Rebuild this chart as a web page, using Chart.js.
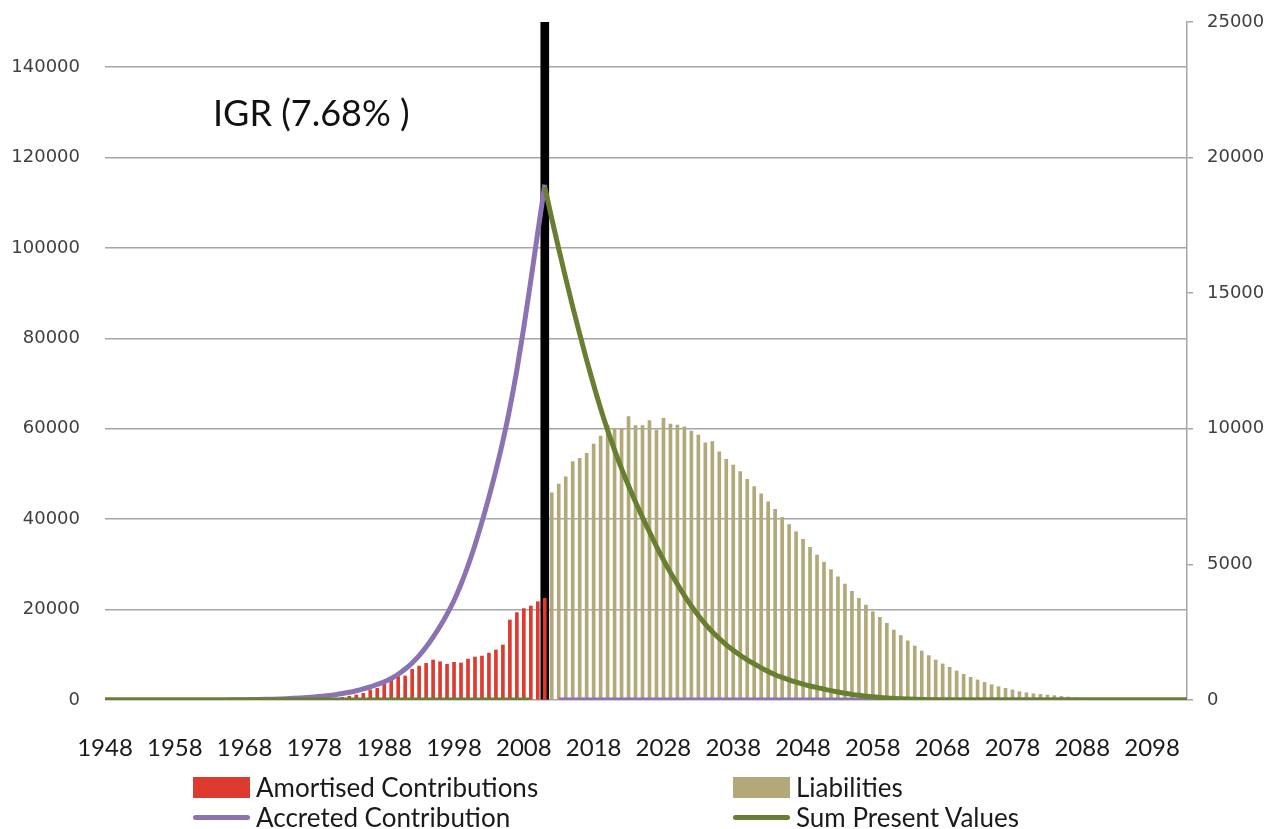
<!DOCTYPE html>
<html lang="en">
<head>
  <meta charset="UTF-8" />
  <script src="https://cdn.jsdelivr.net/npm/chart.js"></script>
  <title>IGR (7.68%)</title>
  <style>
    body {
      margin: 0;
      background: #fff;
    }
    .wrap {
      position: relative;
      width: 1277px;
      height: 829px;
    }
    #legend {
      position: absolute;
      left: 0;
      top: 0;
      width: 100%;
      height: 100%;
      pointer-events: none;
      font-family: Lato, sans-serif;
      font-size: 26px;
      color: #1a1a1a;
    }
    .item {
      position: absolute;
      display: flex;
      align-items: center;
      white-space: nowrap;
      transform: translateY(-50%);
    }
    .swatch {
      width: 57px;
      margin-right: 6px;
      box-sizing: border-box;
    }
  </style>
</head>
<body>
  <div class="wrap">
    <canvas id="chart" width="1277" height="829"></canvas>
    <div id="legend"></div>
  </div>

  <script>
    // categories
    const years = [
      1948, 1949, 1950, 1951, 1952, 1953, 1954, 1955, 1956, 1957,
      1958, 1959, 1960, 1961, 1962, 1963, 1964, 1965, 1966, 1967,
      1968, 1969, 1970, 1971, 1972, 1973, 1974, 1975, 1976, 1977,
      1978, 1979, 1980, 1981, 1982, 1983, 1984, 1985, 1986, 1987,
      1988, 1989, 1990, 1991, 1992, 1993, 1994, 1995, 1996, 1997,
      1998, 1999, 2000, 2001, 2002, 2003, 2004, 2005, 2006, 2007,
      2008, 2009, 2010, 2011, 2012, 2013, 2014, 2015, 2016, 2017,
      2018, 2019, 2020, 2021, 2022, 2023, 2024, 2025, 2026, 2027,
      2028, 2029, 2030, 2031, 2032, 2033, 2034, 2035, 2036, 2037,
      2038, 2039, 2040, 2041, 2042, 2043, 2044, 2045, 2046, 2047,
      2048, 2049, 2050, 2051, 2052, 2053, 2054, 2055, 2056, 2057,
      2058, 2059, 2060, 2061, 2062, 2063, 2064, 2065, 2066, 2067,
      2068, 2069, 2070, 2071, 2072, 2073, 2074, 2075, 2076, 2077,
      2078, 2079, 2080, 2081, 2082, 2083, 2084, 2085, 2086, 2087,
      2088, 2089, 2090, 2091, 2092, 2093, 2094, 2095, 2096, 2097,
      2098, 2099, 2100, 2101, 2102, 2103
    ];

    // bars, right axis (from amortStart onwards)
    const amortStart = 1980;
    const amortised = [
      40, 70, 100, 140, 185, 245, 370, 430,
      675, 800, 860, 885, 1130, 1250, 1350, 1475, 1410, 1315,
      1390, 1365, 1510, 1585, 1620, 1730, 1845, 2030, 2950, 3220,
      3370, 3465, 3625, 3750
    ];

    const liabStart = 2012;
    const liabilities = [
      7640, 7960, 8230, 8790, 8910, 9095, 9440, 9730, 10140, 10020,
      10020, 10450, 10115, 10115, 10300, 9955, 10385, 10175, 10140, 10075,
      9920, 9770, 9485, 9525, 9155, 8875, 8665, 8420, 8135, 7865,
      7600, 7310, 7030, 6730, 6470, 6205, 5925, 5630, 5345, 5080,
      4805, 4540, 4275, 4010, 3750, 3500, 3255, 3050, 2830, 2580,
      2380, 2180, 1990, 1805, 1635, 1475, 1330, 1205, 1070, 945,
      835, 740, 650, 565, 490, 430, 370, 305, 270, 230,
      210, 185, 160, 135, 110, 90, 70, 55, 40, 30,
      20, 15, 10
    ];

    // lines, left axis, one value per year 1948-2103
    const accreted = [
      0, 0, 0, 0, 0, 0, 0, 0, 0, 0,
      0, 0, 0, 3, 6, 10, 16, 24, 34, 47,
      64, 85, 112, 145, 185, 235, 295, 365, 450, 550,
      670, 810, 980, 1180, 1420, 1700, 2050, 2450, 2900, 3450,
      4000, 4750, 5700, 6850, 8200, 9800, 11700, 13900, 16300, 19000,
      22000, 25600, 29700, 34300, 39400, 44900, 50800, 57300, 64600, 73000,
      82500, 92800, 103500, 114000, null, 0, 0, 0, 0, 0,
      0, 0, 0, 0, 0, 0, 0, 0, 0, 0,
      0, 0, 0, 0, 0, 0, 0, 0, 0, 0,
      0, 0, 0, 0, 0, 0, 0, 0, 0, 0,
      0, 0, 0, 0, 0, 0, 0, 0, 0, 0,
      0, 0, 0, 0, 0, 0, 0, 0, 0, 0,
      0, 0, 0, 0, 0, 0, 0, 0, 0, 0,
      0, 0, 0, 0, 0, 0, 0, 0, 0, 0,
      0, 0, 0, 0, 0, 0, 0, 0, 0, 0,
      0, 0, 0, 0, 0, 0
    ];

    const sumPresent = [
      0, 0, 0, 0, 0, 0, 0, 0, 0, 0,
      0, 0, 0, 0, 0, 0, 0, 0, 0, 0,
      0, 0, 0, 0, 0, 0, 0, 0, 0, 0,
      0, 0, 0, 0, 0, 0, 0, 0, 0, 0,
      0, 0, 0, 0, 0, 0, 0, 0, 0, 0,
      0, 0, 0, 0, 0, 0, 0, 0, 0, 0,
      0, 0, null, 113500, 106500, 99800, 93300, 87000, 81000, 75200,
      69700, 64500, 59700, 55300, 51200, 47400, 43800, 40400, 37200, 34000,
      31000, 28200, 25600, 23100, 20800, 18700, 16800, 15100, 13600, 12200,
      11000, 9900, 8900, 8000, 7100, 6300, 5600, 5000, 4450, 3950,
      3500, 3100, 2750, 2400, 2080, 1780, 1500, 1250, 1030, 850,
      700, 570, 460, 360, 280, 210, 150, 100, 65, 40,
      20, 10, 0, 0, 0, 0, 0, 0, 0, 0,
      0, 0, 0, 0, 0, 0, 0, 0, 0, 0,
      0, 0, 0, 0, 0, 0, 0, 0, 0, 0,
      0, 0, 0, 0, 0, 0
    ];

    // the vertical IGR marker reaches the top of the right axis
    const igrYear = 2011;
    const igrTop = 25000;
    const igrLabel = 'IGR (7.68% )';

    const leftMax = 150000;
    const leftTicks = [0, 20000, 40000, 60000, 80000, 100000, 120000, 140000];
    const rightMax = 25000;
    const rightTicks = [0, 5000, 10000, 15000, 20000, 25000];

    const fromStart = (arr, start) => years.map(y => {
      const v = arr[y - start];
      return v === undefined ? null : v;
    });

    const tickFont = { family: 'DejaVu Sans', size: 18 };
    const gridGray = '#a6a6a6';

    const igrText = {
      id: 'igrText',
      afterDraw(chart) {
        const { ctx, chartArea } = chart;
        ctx.save();
        ctx.font = '36px Lato';
        ctx.fillStyle = '#111';
        ctx.textBaseline = 'alphabetic';
        ctx.fillText(igrLabel, chartArea.left + 108, 126);
        ctx.restore();
      }
    };

    // fixed axis boxes so the plot sits where the original one does
    const fixBox = w => s => {
      s.width = w;
      s.paddingTop = 0;
      s.paddingBottom = 0;
    };

    const chart = new Chart(document.getElementById('chart'), {
      data: {
        labels: years,
        datasets: [
          {
            type: 'bar', label: 'IGR',
            data: years.map(y => y === igrYear ? igrTop : null),
            yAxisID: 'y1', backgroundColor: '#000', barThickness: 8,
            grouped: false, order: 5
          },
          {
            type: 'bar', label: 'Amortised Contributions',
            data: fromStart(amortised, amortStart),
            yAxisID: 'y1', backgroundColor: '#de3a2f', barThickness: 3,
            grouped: false, order: 4
          },
          {
            type: 'bar', label: 'Liabilities',
            data: fromStart(liabilities, liabStart),
            yAxisID: 'y1', backgroundColor: '#b3a878', barThickness: 3,
            grouped: false, order: 3
          },
          {
            type: 'line', label: 'Accreted Contribution', data: accreted,
            yAxisID: 'y', borderColor: '#8b73b2', borderWidth: 5,
            pointRadius: 0, cubicInterpolationMode: 'monotone',
            spanGaps: false, order: 2
          },
          {
            type: 'line', label: 'Sum Present Values', data: sumPresent,
            yAxisID: 'y', borderColor: '#677f30', borderWidth: 5,
            pointRadius: 0, cubicInterpolationMode: 'monotone',
            spanGaps: false, order: 1
          }
        ]
      },
      options: {
        responsive: false,
        animation: false,
        layout: { padding: { left: 10, right: 10, top: 22, bottom: 69 } },
        plugins: {
          legend: { display: false },
          tooltip: { enabled: false }
        },
        scales: {
          x: {
            offset: false,
            afterFit: s => { s.height = 60; },
            grid: { display: false, drawTicks: false },
            border: { display: false },
            ticks: {
              autoSkip: false, maxRotation: 0, minRotation: 0,
              padding: 34, color: '#1a1a1a',
              font: { family: 'Lato', size: 24 },
              callback: (v, i) => i % 10 === 0 ? String(years[i]) : null
            }
          },
          y: {
            position: 'left', min: 0, max: leftMax,
            afterBuildTicks: s => { s.ticks = leftTicks.map(v => ({ value: v })); },
            afterFit: fixBox(95),
            grid: { color: gridGray, lineWidth: 1.5, drawTicks: false },
            border: { display: false },
            ticks: {
              padding: 25, color: '#404040', font: tickFont,
              callback: v => String(v)
            }
          },
          y1: {
            position: 'right', min: 0, max: rightMax,
            afterBuildTicks: s => { s.ticks = rightTicks.map(v => ({ value: v })); },
            afterFit: fixBox(80),
            grid: { drawOnChartArea: false, drawTicks: true, tickLength: 6, color: gridGray, lineWidth: 1.5 },
            border: { display: true, color: gridGray, width: 1.5 },
            ticks: {
              padding: 14, color: '#404040', font: tickFont,
              callback: v => String(v)
            }
          }
        }
      },
      plugins: [igrText]
    });

    // legend laid out as two columns like the original
    const legendSpots = {
      'Amortised Contributions': [193, 787],
      'Liabilities': [733, 787],
      'Accreted Contribution': [193, 817],
      'Sum Present Values': [733, 817]
    };
    const legendEl = document.getElementById('legend');
    chart.data.datasets.forEach(ds => {
      const spot = legendSpots[ds.label];
      if (!spot) return;
      const item = document.createElement('div');
      item.className = 'item';
      item.style.left = spot[0] + 'px';
      item.style.top = spot[1] + 'px';
      const sw = document.createElement('span');
      sw.className = 'swatch';
      if (ds.type === 'bar') {
        sw.style.height = '21px';
        sw.style.background = ds.backgroundColor;
      } else {
        sw.style.height = '5px';
        sw.style.borderRadius = '3px';
        sw.style.background = ds.borderColor;
      }
      item.appendChild(sw);
      item.appendChild(document.createTextNode(ds.label));
      legendEl.appendChild(item);
    });
  </script>
</body>
</html>
